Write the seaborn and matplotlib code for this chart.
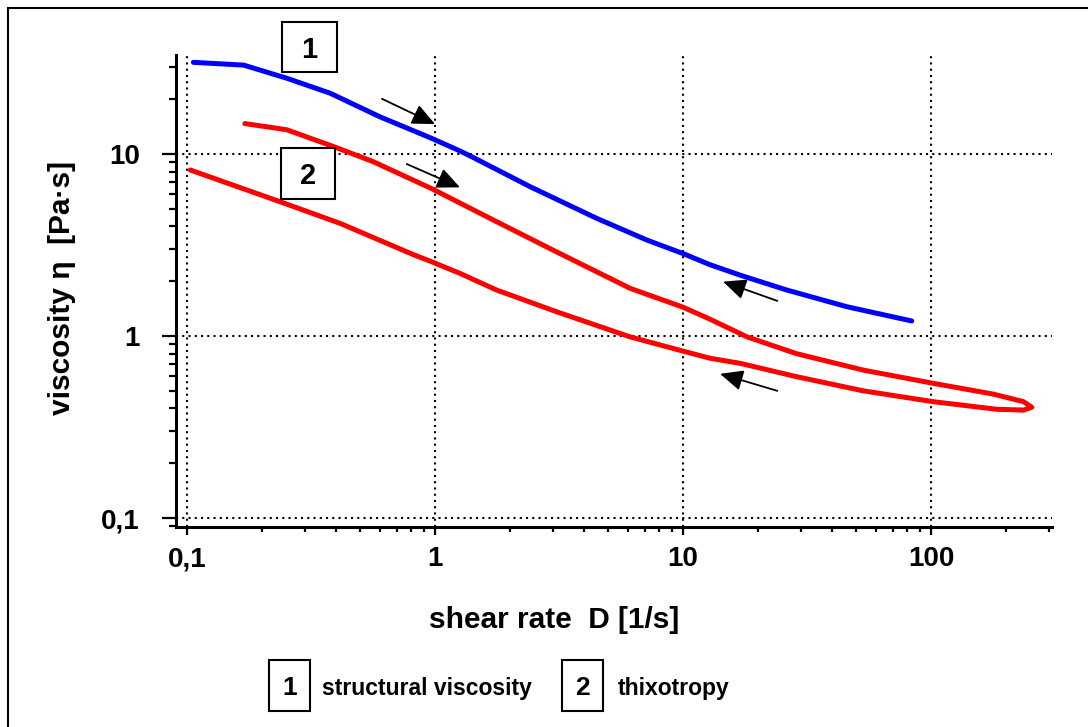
import numpy as np
import pandas as pd
import matplotlib
matplotlib.use("Agg")
import matplotlib.pyplot as plt
import seaborn as sns
from matplotlib import font_manager
from matplotlib.patches import Rectangle
from matplotlib.ticker import LogLocator, NullFormatter, FixedLocator, FixedFormatter

# ---------------- data ----------------
# curve 1: structural viscosity (blue)
blue_x = [0.106, 0.169, 0.252, 0.377, 0.600, 0.955, 1.26, 1.43, 2.42, 4.49, 7.14, 10.0, 12.8, 17.0, 26.2, 45.7, 83.6]
blue_y = [31.9, 30.8, 26.1, 21.6, 16.0, 12.3, 10.4, 9.55, 6.61, 4.43, 3.37, 2.84, 2.47, 2.16, 1.79, 1.45, 1.21]

# curve 2: thixotropy loop (red) - up branch then down branch
red_up_x = [0.171, 0.252, 0.389, 0.564, 0.97, 1.77, 3.09, 6.11, 10.0, 11.7, 12.8, 18.1, 28.7, 53.3, 102, 178, 236, 255]
red_up_y = [14.7, 13.6, 11.0, 9.07, 6.45, 4.25, 2.90, 1.83, 1.44, 1.31, 1.24, 0.99, 0.80, 0.65, 0.55, 0.48, 0.436, 0.406]
red_down_x = [255, 236, 184, 102, 53.3, 28.7, 17.0, 12.8, 9.72, 6.11, 3.09, 1.77, 1.26, 0.955, 0.818, 0.414, 0.237, 0.103]
red_down_y = [0.406, 0.392, 0.396, 0.436, 0.50, 0.598, 0.708, 0.756, 0.835, 0.99, 1.36, 1.79, 2.21, 2.58, 2.80, 4.16, 5.47, 8.17]

# direction arrows: (tail_x, tail_y, tip_x, tip_y)
arrow_tail_x = [0.611, 0.769, 24.0, 24.0]
arrow_tail_y = [20.1, 8.81, 1.56, 0.50]
arrow_tip_x = [1.00, 1.26, 14.5, 14.1]
arrow_tip_y = [14.6, 6.56, 1.99, 0.62]

x_ticks = [0.1, 1, 10, 100]
x_tick_labels = ["0,1", "1", "10", "100"]
y_ticks = [0.1, 1, 10]
y_tick_labels = ["0,1", "1", "10"]

x_label = "shear rate  D [1/s]"
y_label = "viscosity \u03b7  [Pa\u00b7s]"
legend_numbers = ["1", "2"]
legend_texts = ["structural viscosity", "thixotropy"]

# ---------------- style ----------------
sns.set_style("ticks")
plt.rcParams["font.family"] = ["Liberation Sans", "DejaVu Sans"]
plt.rcParams["font.weight"] = "bold"
for k in ["text.color", "axes.labelcolor", "xtick.color", "ytick.color", "axes.edgecolor"]:
    plt.rcParams[k] = "black"

names = {f.name for f in font_manager.fontManager.ttflist}
has_narrow = "Liberation Sans Narrow" in names

W, H = 1088, 727
fig = plt.figure(figsize=(W / 100, H / 100), dpi=100)
ax = fig.add_axes([176 / W, 200 / H, (1052 - 176) / W, (672 - 200) / H])
ax.set_xscale("log")
ax.set_yscale("log")

blue_df = pd.DataFrame({"x": blue_x, "y": blue_y})
red_df = pd.DataFrame({"x": red_up_x + red_down_x, "y": red_up_y + red_down_y})

sns.lineplot(data=blue_df, x="x", y="y", sort=False, estimator=None,
             color="#0000ff", lw=3.6, ax=ax, zorder=3)
sns.lineplot(data=red_df, x="x", y="y", sort=False, estimator=None,
             color="#ff0000", lw=3.6, ax=ax, zorder=3)

ax.set_xlim(0.0902, 307.5)
ax.set_ylim(0.0893, 35.0)

for tx, ty, hx, hy in zip(arrow_tail_x, arrow_tail_y, arrow_tip_x, arrow_tip_y):
    ax.annotate("", xy=(hx, hy), xytext=(tx, ty),
                arrowprops=dict(arrowstyle="-|>,head_length=1.0,head_width=0.45",
                                mutation_scale=14, color="black", lw=1.3,
                                shrinkA=0, shrinkB=0), zorder=4)

# ticks
ax.xaxis.set_major_locator(FixedLocator(x_ticks))
ax.xaxis.set_major_formatter(FixedFormatter(x_tick_labels))
ax.yaxis.set_major_locator(FixedLocator(y_ticks))
ax.yaxis.set_major_formatter(FixedFormatter(y_tick_labels))
ax.xaxis.set_minor_locator(LogLocator(base=10, subs=np.arange(2, 10), numticks=20))
ax.yaxis.set_minor_locator(LogLocator(base=10, subs=np.arange(2, 10), numticks=20))
ax.xaxis.set_minor_formatter(NullFormatter())
ax.yaxis.set_minor_formatter(NullFormatter())

ax.tick_params(axis="x", which="major", direction="out", length=6, width=1.6,
               pad=8, labelsize=20, color="black", labelcolor="black")
ax.tick_params(axis="x", which="minor", direction="out", length=3.5, width=1.6, color="black")
ax.tick_params(axis="y", which="major", direction="out", length=10, width=1.6,
               pad=16, labelsize=20, color="black", labelcolor="black")
ax.tick_params(axis="y", which="minor", direction="out", length=5, width=1.6, color="black")
for lab in ax.get_xticklabels() + ax.get_yticklabels():
    lab.set_fontweight("bold")

for s in ["top", "right"]:
    ax.spines[s].set_visible(False)
for s in ["left", "bottom"]:
    ax.spines[s].set_linewidth(2.2)
    ax.spines[s].set_color("black")

ax.grid(True, which="major", color="black", lw=1.5, ls=(0, (1, 2)))
ax.set_axisbelow(True)
ax.set_xlabel("")
ax.set_ylabel("")

# axis titles
fig.text(554 / W, 1 - 620 / H, x_label, ha="center", va="center",
         fontsize=21.5, fontweight="bold", color="black")
fig.text(62 / W, 1 - 288 / H, y_label, ha="center", va="center",
         rotation=90, fontsize=21.5, fontweight="bold", color="black")

# curve number boxes (figure pixel coordinates)
def pbox(x0, y0, x1, y1, label, fs):
    fig.add_artist(Rectangle((x0 / W, 1 - y1 / H), (x1 - x0) / W, (y1 - y0) / H,
                             transform=fig.transFigure, facecolor="white",
                             edgecolor="black", lw=1.5, zorder=5))
    fig.text((x0 + x1) / 2 / W, 1 - (y0 + y1) / 2 / H, label, ha="center",
             va="center_baseline", fontsize=fs, fontweight="bold", zorder=6, color="black")

pbox(282, 22, 337, 72, legend_numbers[0], 21)
pbox(281, 148, 335, 199, legend_numbers[1], 21)

# bottom legend
pbox(269, 660, 310, 711, legend_numbers[0], 19)
pbox(562, 660, 603, 711, legend_numbers[1], 19)
if has_narrow:
    lfam, lsize = ["Liberation Sans Narrow", "Liberation Sans"], 20
else:
    lfam, lsize = ["Liberation Sans", "DejaVu Sans"], 16.5
fig.text(322 / W, 1 - 686 / H, legend_texts[0], ha="left", va="center_baseline",
         fontsize=lsize, fontweight="bold", family=lfam, color="black")
fig.text(618 / W, 1 - 686 / H, legend_texts[1], ha="left", va="center_baseline",
         fontsize=lsize, fontweight="bold", family=lfam, color="black")

# outer frame (cut off at right and bottom edges)
fig.add_artist(Rectangle((8 / W, -0.5), 2.0, 1.5 - 8 / H, transform=fig.transFigure,
                         fill=False, edgecolor="black", lw=1.5, zorder=1))

fig.savefig("out.png", dpi=100)
